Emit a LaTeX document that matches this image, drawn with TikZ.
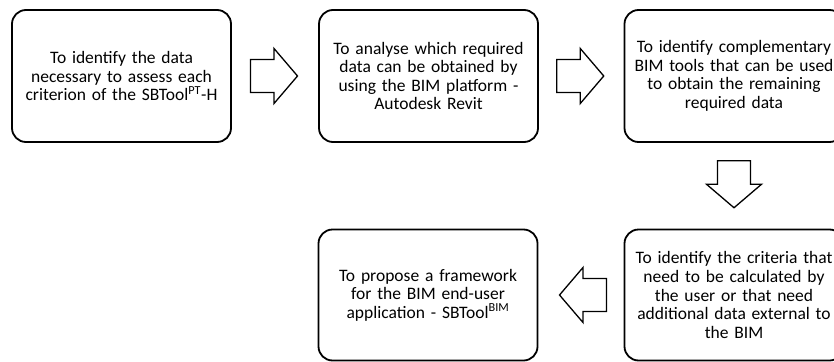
\documentclass[tikz,border=0pt]{standalone}
\usepackage{fontspec}
\setmainfont{Carlito}
\usetikzlibrary{calc}

\tikzset{
  stepbox/.style={draw, line width=1.8pt, rounded corners=14pt,
    minimum width=219pt, minimum height=132pt, inner sep=0pt,
    align=center, text width=212pt,
    font=\fontsize{17.5}{18.6}\selectfont},
  arrowline/.style={draw, line width=1.3pt, fill=white, line join=miter},
  flowarrow/.pic={
    \path[arrowline] (-23.5,16.5) -- (0,16.5) -- (0,27.5) -- (23.5,0)
      -- (0,-27.5) -- (0,-16.5) -- (-23.5,-16.5) -- cycle;
  }
}

\begin{document}
\begin{tikzpicture}[x=1pt, y=-1pt]
  \useasboundingbox (0,0) rectangle (834,361);
  \clip (0,0) rectangle (834,361);

  % process steps
  \node[stepbox] (s1) at (121.5,76)
    {To identify the data\\ necessary to assess each\\ criterion of the SBTool\textsuperscript{PT}-H};
  \node[stepbox] (s2) at (428.5,76)
    {To analyse which required\\ data can be obtained by\\ using the BIM platform -\\ Autodesk Revit};
  \node[stepbox] (s3) at (734,76)
    {To identify complementary\\ BIM tools that can be used\\ to obtain the remaining\\ required data};
  \node[stepbox, minimum height=131pt] (s4) at (734,295)
    {To identify the criteria that\\ need to be calculated by\\ the user or that need\\ additional data external to\\ the BIM};
  \node[stepbox, minimum height=131pt] (s5) at (428,295)
    {To propose a framework\\ for the BIM end-user\\ application - SBTool\textsuperscript{BIM}};

  % block arrows between the steps
  \pic (a1) at ($(s1.east)!0.5!(s2.west)+(-1,0)$) {flowarrow};
  \pic (a2) at ($(s2.east)!0.5!(s3.west)+(-1,0)$) {flowarrow};
  \pic[rotate=-90] (a3) at ($(s3.south)!0.5!(s4.north)+(0,-1.5)$) {flowarrow};
  \pic[rotate=180] (a4) at ($(s5.east)!0.5!(s4.west)+(2,0)$) {flowarrow};
\end{tikzpicture}
\end{document}
